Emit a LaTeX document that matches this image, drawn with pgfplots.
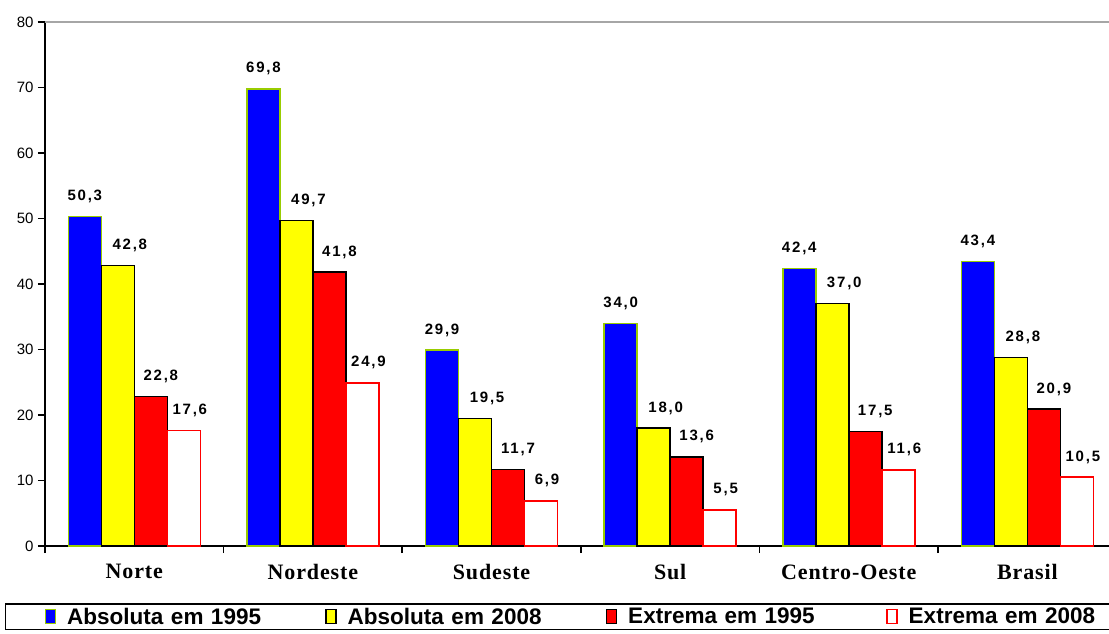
\documentclass[border=0pt]{standalone}
\usepackage{fontspec}
\setmainfont{Liberation Sans}
\newfontfamily\catfont[LetterSpace=4]{Liberation Serif}
\newfontfamily\valfont[LetterSpace=12]{Liberation Sans}
\usepackage{pgfplots}
\pgfplotsset{compat=1.18}
\definecolor{bblue}{RGB}{0,0,255}
\definecolor{byellow}{RGB}{255,255,0}
\definecolor{bred}{RGB}{255,0,0}
\definecolor{bgreen}{RGB}{153,204,0}
\pgfplotsset{mylegend/.style 2 args={legend image code/.code={\draw[fill=#1,draw=#2,line width=1.5pt] (0pt,-7pt) rectangle (10pt,7pt); \path (21pt,0pt);}}}
\begin{document}
\begin{tikzpicture}[x=1pt,y=1pt]
\begin{axis}[
  at={(45pt,87pt)}, anchor=south west,
  width=1064pt, height=524pt, scale only axis,
  xmin=-0.5, xmax=5.457, ymin=0, ymax=80,
  axis x line*=bottom, axis y line*=left,
  axis line style={black, line width=1.5pt},
  /pgf/number format/assume math mode=true,
  tick align=outside,
  ytick={0,10,...,80},
  yticklabel style={font=\fontsize{15}{18}\selectfont, xshift=-1pt},
  major tick length=7pt,
  major y tick style={black, line width=1.5pt},
  xtick={0,...,5},
  xticklabels={Norte,Nordeste,Sudeste,Sul,Centro-Oeste,Brasil},
  xticklabel style={font=\catfont\bfseries\fontsize{22}{26}\selectfont, yshift=-8pt},
  major x tick style={draw=none},
  extra x ticks={-0.5,0.5,1.5,2.5,3.5,4.5,5.5},
  extra x tick labels={},
  extra x tick style={major x tick style={draw=black, line width=1.5pt}, major tick length=7pt},
  extra y ticks={80}, extra y tick labels={},
  extra y tick style={ymajorgrids=true, major grid style={gray!70, line width=1.5pt}},
  ybar=0pt, bar width=33pt,
  nodes near coords={\pgfmathprintnumber[fixed,fixed zerofill,precision=1,use comma]{\pgfplotspointmeta}},
  every node near coord/.append style={font=\valfont\bfseries\fontsize{15}{18}\selectfont, inner sep=0pt, yshift=13pt, black},
  legend columns=4,
  legend style={at={(axis description cs:-0.0376,-0.1088)}, anchor=north west,
    draw=black, line width=1.5pt, inner xsep=39pt, inner ysep=3pt,
    font=\bfseries\fontsize{22.5}{26}\selectfont,
    nodes={inner xsep=0pt, inner ysep=1pt, text width=258pt, align=left, anchor=west}},
]
\addplot[fill=bblue, draw=bgreen, line width=1.5pt, mylegend={bblue}{bgreen}]
  coordinates {(0,50.3) (1,69.8) (2,29.9) (3,34.0) (4,42.4) (5,43.4)};
\addlegendentry{Absoluta em 1995}
\addplot[fill=byellow, draw=black, line width=1.5pt,
  every node near coord/.append style={xshift=12pt}, mylegend={byellow}{black}]
  coordinates {(0,42.8) (1,49.7) (2,19.5) (3,18.0) (4,37.0) (5,28.8)};
\addlegendentry{Absoluta em 2008}
\addplot[fill=bred, draw=black, line width=1.5pt,
  every node near coord/.append style={xshift=10pt}, mylegend={bred}{black}]
  coordinates {(0,22.8) (1,41.8) (2,11.7) (3,13.6) (4,17.5) (5,20.9)};
\addlegendentry{Extrema em 1995}
\addplot[fill=white, draw=bred, line width=1.5pt,
  every node near coord/.append style={xshift=6pt}, mylegend={white}{bred}]
  coordinates {(0,17.6) (1,24.9) (2,6.9) (3,5.5) (4,11.6) (5,10.5)};
\addlegendentry{Extrema em 2008}
\end{axis}
\pgfresetboundingbox
\path[use as bounding box] (0pt,0pt) rectangle (1109pt,633pt);
\end{tikzpicture}
\end{document}
